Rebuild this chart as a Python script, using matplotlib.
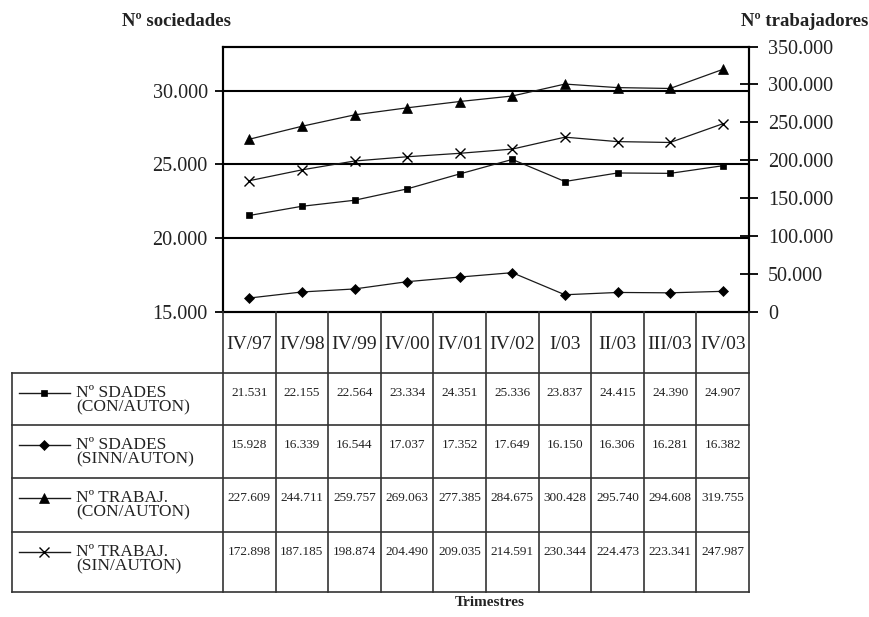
import matplotlib.pyplot as plt
from matplotlib.lines import Line2D

plt.rcParams['font.family'] = ['Liberation Serif', 'DejaVu Serif']

trimestres = ['IV/97', 'IV/98', 'IV/99', 'IV/00', 'IV/01', 'IV/02', 'I/03', 'II/03', 'III/03', 'IV/03']
sdades_con = [21531, 22155, 22564, 23334, 24351, 25336, 23837, 24415, 24390, 24907]
sdades_sin = [15928, 16339, 16544, 17037, 17352, 17649, 16150, 16306, 16281, 16382]
trabaj_con = [227609, 244711, 259757, 269063, 277385, 284675, 300428, 295740, 294608, 319755]
trabaj_sin = [172898, 187185, 198874, 204490, 209035, 214591, 230344, 224473, 223341, 247987]

series = [
    ('Nº SDADES\n(CON/AUTON)', sdades_con, 's', 'left'),
    ('Nº SDADES\n(SINN/AUTON)', sdades_sin, 'D', 'left'),
    ('Nº TRABAJ.\n(CON/AUTON)', trabaj_con, '^', 'right'),
    ('Nº TRABAJ.\n(SIN/AUTON)', trabaj_sin, 'x', 'right'),
]
msizes = {'s': 5, 'D': 5.5, '^': 6.5, 'x': 7}

W, H = 869, 617
fig = plt.figure(figsize=(W / 100, H / 100), dpi=100)

# chart area (pixel box -> figure fraction)
x0, x1, ytop, ybot = 223, 749, 46.5, 311.7
ax = fig.add_axes([x0 / W, 1 - ybot / H, (x1 - x0) / W, (ybot - ytop) / H])
ax2 = ax.twinx()

n = len(trimestres)
xs = list(range(n))
ax.set_xlim(-0.5, n - 0.5)
ax.set_ylim(15000, 33000)
ax2.set_ylim(0, 350000)

fmt = lambda v: f'{int(v):,}'.replace(',', '.')
ax.set_yticks([15000, 20000, 25000, 30000])
ax.set_yticklabels([fmt(v) for v in ax.get_yticks()])
ax2.set_yticks(range(0, 350001, 50000))
ax2.set_yticklabels([fmt(v) for v in ax2.get_yticks()])
ax.set_xticks([])

ax.tick_params(axis='y', direction='out', length=6, width=1.3, labelsize=14.5, pad=5,
               labelcolor='#222222')
ax2.tick_params(axis='y', direction='inout', length=13, width=1.3, labelsize=14.5, pad=7,
                labelcolor='#222222')
for a in (ax, ax2):
    for s in a.spines.values():
        s.set_linewidth(1.5)

for yv in [20000, 25000, 30000]:
    ax.axhline(yv, color='black', lw=1.5, zorder=1)

for label, vals, mk, side in series:
    target = ax if side == 'left' else ax2
    target.plot(xs, vals, color='#1a1a1a', lw=0.9, marker=mk, ms=msizes[mk],
                mec='black', mfc='black', mew=1.0 if mk == 'x' else 0.5)

fig.text(177 / W, 1 - 21 / H, 'Nº sociedades', ha='center', va='center',
         fontsize=13.5, fontweight='bold', color='#222222')
fig.text(805 / W, 1 - 21 / H, 'Nº trabajadores', ha='center', va='center',
         fontsize=13.5, fontweight='bold', color='#222222')
fig.text(490 / W, 1 - 603 / H, 'Trimestres', ha='center', va='center',
         fontsize=11, fontweight='bold', color='#222222')

# data table underneath, sharing the category scale of the chart
tl, tb = 11.7, 591.7
unit = (x1 - x0) / n
xleft = -0.5 - (x0 - tl) / unit
tab = fig.add_axes([tl / W, 1 - tb / H, (x1 - tl) / W, (tb - ybot) / H])
tab.set_xlim(xleft, n - 0.5)
rows = [0, 61, 113, 166, 220, 280]
tab.set_ylim(rows[-1], rows[0])
tab.axis('off')

lc, lw = '#333333', 1.2
for i in range(n + 1):
    tab.plot([i - 0.5, i - 0.5], [rows[0], rows[-1]], color=lc, lw=lw, clip_on=False)
tab.plot([xleft, xleft], [rows[1], rows[-1]], color=lc, lw=lw, clip_on=False)
for r in rows[1:]:
    tab.plot([xleft, n - 0.5], [r, r], color=lc, lw=lw, clip_on=False)

for i, t in enumerate(trimestres):
    tab.text(i, (rows[0] + rows[1]) / 2 + 2, t, ha='center', va='center', fontsize=14,
             color='#222222')

px = lambda p: -0.5 - (x0 - p) / unit
for k, (label, vals, mk, side) in enumerate(series):
    ytxt = rows[k + 1] + 20
    tab.add_line(Line2D([px(19), px(70.5)], [ytxt, ytxt], color='#1a1a1a', lw=1.0))
    tab.plot([px(44)], [ytxt], marker=mk, ms=msizes[mk], color='black',
             mew=1.0 if mk == 'x' else 0.5)
    tab.text(px(76.5), ytxt - 8, label, ha='left', va='top', fontsize=12.5,
             linespacing=0.92, color='#222222')
    for i, v in enumerate(vals):
        tab.text(i, ytxt, fmt(v), ha='center', va='center', fontsize=9.5,
                 color='#222222')

fig.savefig('out.png', dpi=100)
